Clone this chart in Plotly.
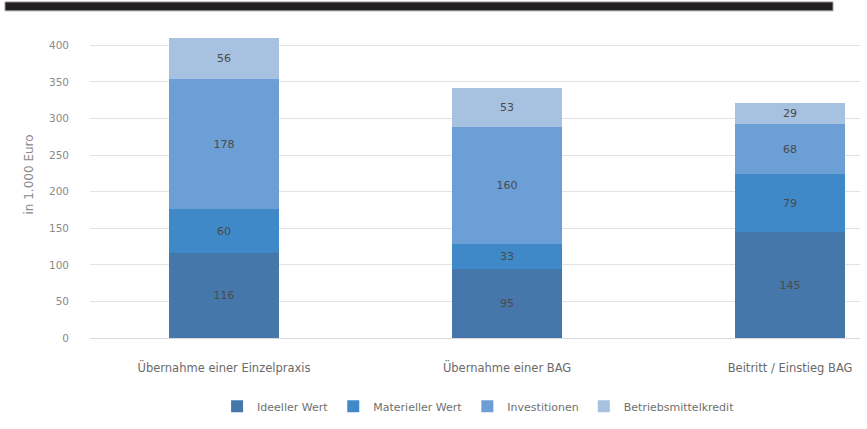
import plotly.graph_objects as go

# Finanzierungsbedarf nach Art der Niederlassung (in 1.000 Euro)
categories = ["Übernahme einer Einzelpraxis", "Übernahme einer BAG", "Beitritt / Einstieg BAG"]
ideeller_wert = [116, 95, 145]
materieller_wert = [60, 33, 79]
investitionen = [178, 160, 68]
betriebsmittelkredit = [56, 53, 29]
y_ticks = [0, 50, 100, 150, 200, 250, 300, 350, 400]

series = [
    ("Ideeller Wert", ideeller_wert, "#4677ab"),
    ("Materieller Wert", materieller_wert, "#3f89c9"),
    ("Investitionen", investitionen, "#6c9fd6"),
    ("Betriebsmittelkredit", betriebsmittelkredit, "#a7c1e1"),
]

FONT = "DejaVu Sans"
W, H = 867, 429
fig = go.Figure()
x_pos = list(range(len(categories)))
for name, vals, col in series:
    fig.add_trace(go.Bar(
        x=x_pos, y=vals, name=name, marker=dict(color=col, line=dict(width=0)),
        width=0.39, text=[str(v) for v in vals], textposition="inside",
        insidetextanchor="middle", textangle=0,
        textfont=dict(color="#4a4a4a", size=11, family=FONT),
    ))

fig.update_layout(
    barmode="stack",
    width=W, height=H,
    margin=dict(l=0, r=0, t=0, b=0),
    paper_bgcolor="white", plot_bgcolor="white",
    font=dict(family=FONT, color="#7f7f7f", size=11),
    showlegend=True,
    legend=dict(orientation="h", x=0.552, xanchor="center", y=(H - 412) / H, yanchor="middle",
                font=dict(size=11, color="#6f6f6f", family=FONT), traceorder="normal",
                bgcolor="rgba(0,0,0,0)"),
    xaxis=dict(
        domain=[90 / W, 860 / W],
        range=[-0.4735, 2.247],
        tickvals=x_pos, ticktext=categories,
        tickfont=dict(size=11.5, color="#6a6a6a", family=FONT),
        showgrid=False, zeroline=False, showline=False, ticks="",
        ticklabelstandoff=21,
    ),
    yaxis=dict(
        domain=[(H - 343) / H, (H - 31) / H],
        range=[0, 420],
        tickvals=y_ticks,
        tickfont=dict(size=10.5, color="#8a8a8a", family=FONT),
        showgrid=True, gridcolor="#e3e3e3", gridwidth=1,
        zeroline=True, zerolinecolor="#d9d9d9", zerolinewidth=1,
        showline=False, ticks="",
        ticklabelstandoff=20,
    ),
    annotations=[dict(
        text="in 1.000 Euro", textangle=-90, xref="paper", yref="paper",
        x=29 / W, y=(H - 177) / H, xanchor="center", yanchor="middle", showarrow=False,
        font=dict(size=12, color="#8a8a8a", family=FONT),
    )],
    shapes=[dict(
        type="rect", xref="paper", yref="paper",
        x0=5 / W, x1=833 / W, y0=(H - 11) / H, y1=(H - 2) / H,
        fillcolor="#231f20", line=dict(color="#9a9a9a", width=1),
    )],
)

fig.write_html("out.html")
